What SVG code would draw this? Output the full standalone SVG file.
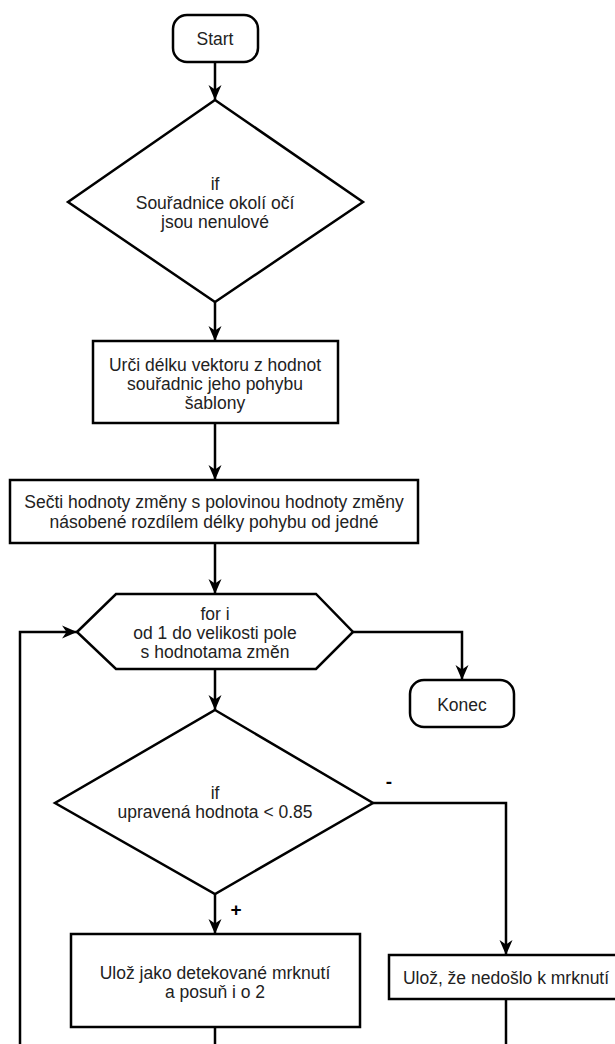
<svg xmlns="http://www.w3.org/2000/svg" width="615" height="1044" viewBox="0 0 615 1044">
<defs>
<style>
.s{fill:#fff;stroke:#000;stroke-width:2.5}
.c{fill:none;stroke:#000;stroke-width:2.5}
text{font-family:"Liberation Sans",Arial,sans-serif;font-size:17.5px;fill:#222;text-anchor:middle;dominant-baseline:central}
.l{font-weight:bold;font-size:19px;fill:#000}
</style>
<marker id="a" markerUnits="userSpaceOnUse" markerWidth="16" markerHeight="16" viewBox="0 0 16 16" refX="15" refY="8" orient="auto">
<path d="M0,1.5 L15,8 L0,14.5 L4.5,8 z" fill="#000"/>
</marker>
</defs>
<rect width="615" height="1044" fill="#fff"/>
<g id="connectors">
<path class="c" d="M215,62 V100" marker-end="url(#a)"/>
<path class="c" d="M215,302 V341" marker-end="url(#a)"/>
<path class="c" d="M215,423 V480" marker-end="url(#a)"/>
<path class="c" d="M215,543 V594" marker-end="url(#a)"/>
<path class="c" d="M215,669 V710" marker-end="url(#a)"/>
<path class="c" d="M353,632 H462 V680" marker-end="url(#a)"/>
<path class="c" d="M215,894 V934" marker-end="url(#a)"/>
<path class="c" d="M373,803 H506 V955" marker-end="url(#a)"/>
<path class="c" d="M215,1027 V1070 H20 V632 H77" marker-end="url(#a)"/>
<path class="c" d="M506,999 V1070"/>
<text class="l" x="389" y="781">-</text>
<text class="l" x="236" y="909">+</text>
</g>
<g id="start">
<rect class="s" x="173" y="15" width="85" height="47" rx="14"/>
<text x="215" y="39">Start</text>
</g>
<g id="if1">
<polygon class="s" points="215,100 363,202 215,302 68,202"/>
<text x="215" y="184">if</text>
<text x="215" y="203">Souřadnice okolí očí</text>
<text x="215" y="222">jsou nenulové</text>
</g>
<g id="urci">
<rect class="s" x="93" y="341" width="245" height="82"/>
<text x="215" y="365">Urči délku vektoru z hodnot</text>
<text x="215" y="384">souřadnic jeho pohybu</text>
<text x="215" y="403">šablony</text>
</g>
<g id="secti">
<rect class="s" x="10" y="480" width="408" height="63"/>
<text x="214" y="502">Sečti hodnoty změny s polovinou hodnoty změny</text>
<text x="214" y="522">násobené rozdílem délky pohybu od jedné</text>
</g>
<g id="for">
<polygon class="s" points="77,632 116,594 316,594 353,632 316,669 116,669"/>
<text x="215" y="614">for i</text>
<text x="215" y="633">od 1 do velikosti pole</text>
<text x="215" y="652">s hodnotama změn</text>
</g>
<g id="konec">
<rect class="s" x="410" y="680" width="104" height="47" rx="14"/>
<text x="462" y="705">Konec</text>
</g>
<g id="if2">
<polygon class="s" points="215,710 373,803 215,894 55,803"/>
<text x="215" y="793">if</text>
<text x="215" y="812">upravená hodnota &lt; 0.85</text>
</g>
<g id="uloz1">
<rect class="s" x="71" y="934" width="289" height="93"/>
<text x="215" y="973">Ulož jako detekované mrknutí</text>
<text x="215" y="992">a posuň i o 2</text>
</g>
<g id="uloz2">
<rect class="s" x="389" y="955" width="234" height="44"/>
<text x="506" y="978">Ulož, že nedošlo k mrknutí</text>
</g>
</svg>
